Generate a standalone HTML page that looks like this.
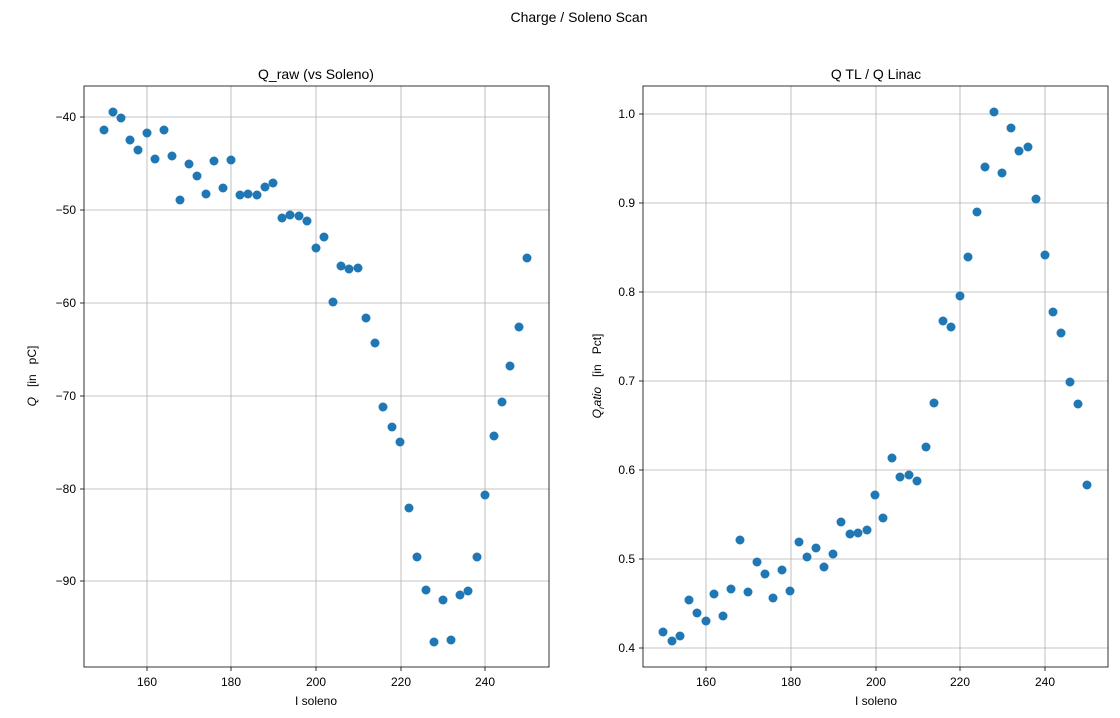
<!DOCTYPE html>
<html><head><meta charset="utf-8"><style>body{margin:0;background:#fff}svg{display:block;font-family:"Liberation Sans","DejaVu Sans",sans-serif}</style></head>
<body>
<svg width="1120" height="718" xmlns="http://www.w3.org/2000/svg">
<rect width="1120" height="718" fill="#fff"/>
<text x="579" y="22" font-size="14" text-anchor="middle">Charge / Soleno Scan</text>
<g stroke="#b0b0b0" stroke-width="0.8">
<line x1="147" y1="86" x2="147" y2="667"/><line x1="231" y1="86" x2="231" y2="667"/><line x1="316" y1="86" x2="316" y2="667"/><line x1="401" y1="86" x2="401" y2="667"/><line x1="485" y1="86" x2="485" y2="667"/>
<line x1="84" y1="117" x2="549" y2="117"/><line x1="84" y1="210" x2="549" y2="210"/><line x1="84" y1="303" x2="549" y2="303"/><line x1="84" y1="396" x2="549" y2="396"/><line x1="84" y1="489" x2="549" y2="489"/><line x1="84" y1="581" x2="549" y2="581"/>
<line x1="706" y1="86" x2="706" y2="667"/><line x1="791" y1="86" x2="791" y2="667"/><line x1="876" y1="86" x2="876" y2="667"/><line x1="960" y1="86" x2="960" y2="667"/><line x1="1045" y1="86" x2="1045" y2="667"/>
<line x1="643" y1="114" x2="1108" y2="114"/><line x1="643" y1="203" x2="1108" y2="203"/><line x1="643" y1="292" x2="1108" y2="292"/><line x1="643" y1="381" x2="1108" y2="381"/><line x1="643" y1="470" x2="1108" y2="470"/><line x1="643" y1="559" x2="1108" y2="559"/><line x1="643" y1="648" x2="1108" y2="648"/>
</g>
<rect x="84" y="86" width="465" height="581" fill="none" stroke="#000" stroke-width="0.8"/>
<rect x="643" y="86" width="465" height="581" fill="none" stroke="#000" stroke-width="0.8"/>
<g stroke="#000" stroke-width="0.8">
<line x1="147" y1="667" x2="147" y2="671"/><line x1="231" y1="667" x2="231" y2="671"/><line x1="316" y1="667" x2="316" y2="671"/><line x1="401" y1="667" x2="401" y2="671"/><line x1="485" y1="667" x2="485" y2="671"/>
<line x1="80" y1="117" x2="84" y2="117"/><line x1="80" y1="210" x2="84" y2="210"/><line x1="80" y1="303" x2="84" y2="303"/><line x1="80" y1="396" x2="84" y2="396"/><line x1="80" y1="489" x2="84" y2="489"/><line x1="80" y1="581" x2="84" y2="581"/>
<line x1="706" y1="667" x2="706" y2="671"/><line x1="791" y1="667" x2="791" y2="671"/><line x1="876" y1="667" x2="876" y2="671"/><line x1="960" y1="667" x2="960" y2="671"/><line x1="1045" y1="667" x2="1045" y2="671"/>
<line x1="639" y1="114" x2="643" y2="114"/><line x1="639" y1="203" x2="643" y2="203"/><line x1="639" y1="292" x2="643" y2="292"/><line x1="639" y1="381" x2="643" y2="381"/><line x1="639" y1="470" x2="643" y2="470"/><line x1="639" y1="559" x2="643" y2="559"/><line x1="639" y1="648" x2="643" y2="648"/>
</g>
<g font-size="12" text-anchor="middle">
<text x="147" y="686">160</text><text x="231" y="686">180</text><text x="316" y="686">200</text><text x="401" y="686">220</text><text x="485" y="686">240</text>
<text x="706" y="686">160</text><text x="791" y="686">180</text><text x="876" y="686">200</text><text x="960" y="686">220</text><text x="1045" y="686">240</text>
<text x="316" y="705">I soleno</text><text x="876" y="705">I soleno</text>
<text x="316" y="79" font-size="14">Q_raw (vs Soleno)</text><text x="876" y="79" font-size="14">Q TL / Q Linac</text>
</g>
<g font-size="12" text-anchor="end">
<text x="76" y="121">−40</text><text x="76" y="214">−50</text><text x="76" y="307">−60</text><text x="76" y="400">−70</text><text x="76" y="493">−80</text><text x="76" y="585">−90</text>
<text x="635" y="118">1.0</text><text x="635" y="207">0.9</text><text x="635" y="296">0.8</text><text x="635" y="385">0.7</text><text x="635" y="474">0.6</text><text x="635" y="563">0.5</text><text x="635" y="652">0.4</text>
</g>
<text transform="translate(36,376) rotate(-90)" font-size="12" text-anchor="middle"><tspan font-style="italic">Q</tspan>&#160;&#160;&#160;[in&#160;&#160;&#160;pC]</text>
<text transform="translate(601,376) rotate(-90)" font-size="12" text-anchor="middle"><tspan font-style="italic">Q</tspan><tspan font-style="italic" font-size="8" dy="3">r</tspan><tspan font-style="italic" dy="-3">atio</tspan>&#160;&#160;&#160;[in&#160;&#160;&#160;Pct]</text>
<g fill="#1f77b4">
<circle cx="104" cy="130" r="4.5"/><circle cx="113" cy="112" r="4.5"/><circle cx="121" cy="118" r="4.5"/><circle cx="130" cy="140" r="4.5"/><circle cx="138" cy="150" r="4.5"/><circle cx="147" cy="133" r="4.5"/><circle cx="155" cy="159" r="4.5"/><circle cx="164" cy="130" r="4.5"/><circle cx="172" cy="156" r="4.5"/><circle cx="180" cy="200" r="4.5"/><circle cx="189" cy="164" r="4.5"/><circle cx="197" cy="176" r="4.5"/><circle cx="206" cy="194" r="4.5"/><circle cx="214" cy="161" r="4.5"/><circle cx="223" cy="188" r="4.5"/><circle cx="231" cy="160" r="4.5"/><circle cx="240" cy="195" r="4.5"/><circle cx="248" cy="194" r="4.5"/><circle cx="257" cy="195" r="4.5"/><circle cx="265" cy="187" r="4.5"/><circle cx="273" cy="183" r="4.5"/><circle cx="282" cy="218" r="4.5"/><circle cx="290" cy="215" r="4.5"/><circle cx="299" cy="216" r="4.5"/><circle cx="307" cy="221" r="4.5"/><circle cx="316" cy="248" r="4.5"/><circle cx="324" cy="237" r="4.5"/><circle cx="333" cy="302" r="4.5"/><circle cx="341" cy="266" r="4.5"/><circle cx="349" cy="269" r="4.5"/><circle cx="358" cy="268" r="4.5"/><circle cx="366" cy="318" r="4.5"/><circle cx="375" cy="343" r="4.5"/><circle cx="383" cy="407" r="4.5"/><circle cx="392" cy="427" r="4.5"/><circle cx="400" cy="442" r="4.5"/><circle cx="409" cy="508" r="4.5"/><circle cx="417" cy="557" r="4.5"/><circle cx="426" cy="590" r="4.5"/><circle cx="434" cy="642" r="4.5"/><circle cx="443" cy="600" r="4.5"/><circle cx="451" cy="640" r="4.5"/><circle cx="460" cy="595" r="4.5"/><circle cx="468" cy="591" r="4.5"/><circle cx="477" cy="557" r="4.5"/><circle cx="485" cy="495" r="4.5"/><circle cx="494" cy="436" r="4.5"/><circle cx="502" cy="402" r="4.5"/><circle cx="510" cy="366" r="4.5"/><circle cx="519" cy="327" r="4.5"/><circle cx="527" cy="258" r="4.5"/>
<circle cx="663" cy="632" r="4.5"/><circle cx="672" cy="641" r="4.5"/><circle cx="680" cy="636" r="4.5"/><circle cx="689" cy="600" r="4.5"/><circle cx="697" cy="613" r="4.5"/><circle cx="706" cy="621" r="4.5"/><circle cx="714" cy="594" r="4.5"/><circle cx="723" cy="616" r="4.5"/><circle cx="731" cy="589" r="4.5"/><circle cx="740" cy="540" r="4.5"/><circle cx="748" cy="592" r="4.5"/><circle cx="757" cy="562" r="4.5"/><circle cx="765" cy="574" r="4.5"/><circle cx="773" cy="598" r="4.5"/><circle cx="782" cy="570" r="4.5"/><circle cx="790" cy="591" r="4.5"/><circle cx="799" cy="542" r="4.5"/><circle cx="807" cy="557" r="4.5"/><circle cx="816" cy="548" r="4.5"/><circle cx="824" cy="567" r="4.5"/><circle cx="833" cy="554" r="4.5"/><circle cx="841" cy="522" r="4.5"/><circle cx="850" cy="534" r="4.5"/><circle cx="858" cy="533" r="4.5"/><circle cx="867" cy="530" r="4.5"/><circle cx="875" cy="495" r="4.5"/><circle cx="883" cy="518" r="4.5"/><circle cx="892" cy="458" r="4.5"/><circle cx="900" cy="477" r="4.5"/><circle cx="909" cy="475" r="4.5"/><circle cx="917" cy="481" r="4.5"/><circle cx="926" cy="447" r="4.5"/><circle cx="934" cy="403" r="4.5"/><circle cx="943" cy="321" r="4.5"/><circle cx="951" cy="327" r="4.5"/><circle cx="960" cy="296" r="4.5"/><circle cx="968" cy="257" r="4.5"/><circle cx="977" cy="212" r="4.5"/><circle cx="985" cy="167" r="4.5"/><circle cx="994" cy="112" r="4.5"/><circle cx="1002" cy="173" r="4.5"/><circle cx="1011" cy="128" r="4.5"/><circle cx="1019" cy="151" r="4.5"/><circle cx="1028" cy="147" r="4.5"/><circle cx="1036" cy="199" r="4.5"/><circle cx="1045" cy="255" r="4.5"/><circle cx="1053" cy="312" r="4.5"/><circle cx="1061" cy="333" r="4.5"/><circle cx="1070" cy="382" r="4.5"/><circle cx="1078" cy="404" r="4.5"/><circle cx="1087" cy="485" r="4.5"/>
</g>
</svg>
</body></html>
